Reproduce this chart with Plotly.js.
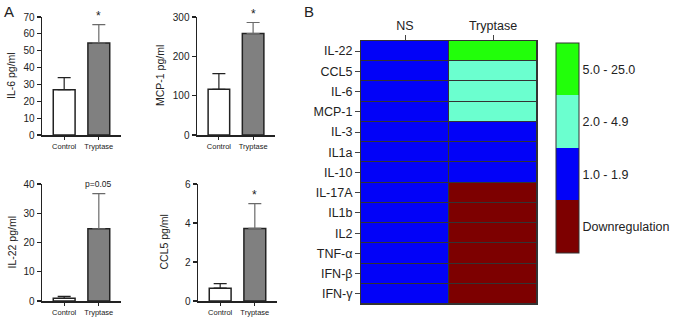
<!DOCTYPE html>
<html><head><meta charset="utf-8">
<script src="https://cdn.plot.ly/plotly-3.0.1.min.js"></script>
<style>html,body{margin:0;padding:0;background:#fff}#c{width:685px;height:317px}</style>
</head><body><div id="c"></div>
<script>
const groups = ["Control", "Tryptase"];
const il6Mean = [26.9, 54.6];
const il6Err = [7.1, 10.9];
const mcp1Mean = [116, 258];
const mcp1Err = [40, 28];
const il22Mean = [0.9, 24.7];
const il22Err = [0.7, 12.0];
const ccl5Mean = [0.66, 3.72];
const ccl5Err = [0.23, 1.27];
const il6Ticks = [0, 10, 20, 30, 40, 50, 60, 70];
const mcp1Ticks = [0, 100, 200, 300];
const il22Ticks = [0, 10, 20, 30, 40];
const ccl5Ticks = [0, 2, 4, 6];

const cytokines = ["IL-22","CCL5","IL-6","MCP-1","IL-3","IL1a","IL-10","IL-17A","IL1b","IL2","TNF-α","IFN-β","IFN-γ"];
const conditions = ["NS", "Tryptase"];
const nsLevel = [1,1,1,1,1,1,1,1,1,1,1,1,1];
const tryptaseLevel = [3,2,2,2,1,1,1,0,0,0,0,0,0];
const levelLabels = ["Downregulation", "1.0 - 1.9", "2.0 - 4.9", "5.0 - 25.0"];
const levelValues = [0, 1, 2, 3];

const FONT = "Liberation Sans, Arial, sans-serif";
const W = 685, H = 317;
const px = v => v / W;
const py = v => 1 - v / H;

const panels = [
  {mean: il6Mean, err: il6Err, ticks: il6Ticks, title: "IL-6 pg/ml", mark: "*", x: [42,121], y: [17,135], tx: 11},
  {mean: mcp1Mean, err: mcp1Err, ticks: mcp1Ticks, title: "MCP-1 pg/ml", mark: "*", x: [197,275], y: [17,135], tx: 160},
  {mean: il22Mean, err: il22Err, ticks: il22Ticks, title: "IL-22 pg/ml", mark: "p=0.05", x: [42,121], y: [184,301], tx: 11},
  {mean: ccl5Mean, err: ccl5Err, ticks: ccl5Ticks, title: "CCL5 pg/ml", mark: "*", x: [198,277], y: [184,301], tx: 163}
];

const traces = [];
const layout = {
  width: W, height: H,
  margin: {l:0, r:0, t:0, b:0},
  paper_bgcolor: "#fff",
  plot_bgcolor: "rgba(0,0,0,0)",
  showlegend: false,
  font: {family: FONT, color: "#222"},
  annotations: [],
  shapes: []
};

panels.forEach((p, i) => {
  const n = i + 1;
  const xa = "x" + n, ya = "y" + n;
  const xk = "xaxis" + n, yk = "yaxis" + n;
  const colors = ["#ffffff", "#808080"];
  const errCol = ["#222222", "#6a6a6a"];
  groups.forEach((g, j) => {
    traces.push({
      type: "bar", x: [g], y: [p.mean[j]], xaxis: xa, yaxis: ya,
      width: 0.63,
      marker: {color: colors[j], line: {color: "#222", width: 1.5}},
      error_y: {type: "data", array: [p.err[j]], arrayminus: [0], symmetric: false,
                color: errCol[j], thickness: 1.2, width: 6.5}
    });
  });
  const ymax = p.ticks[p.ticks.length - 1];
  layout[xk] = {
    domain: [px(p.x[0]), px(p.x[1])], anchor: ya,
    type: "category", categoryarray: groups, range: [-0.64, 1.64],
    showline: true, linecolor: "#222", linewidth: 1.5,
    ticks: "outside", ticklen: 3, tickcolor: "#222", tickwidth: 1,
    tickfont: {size: 7.5, family: FONT, color: "#222"},
    showgrid: false, zeroline: false, fixedrange: true
  };
  layout[yk] = {
    domain: [py(p.y[1]), py(p.y[0])], anchor: xa,
    range: [0, ymax], tickvals: p.ticks,
    showline: true, linecolor: "#222", linewidth: 1.5,
    ticks: "outside", ticklen: 4, tickcolor: "#222", tickwidth: 1.2,
    tickfont: {size: 10, family: FONT, color: "#222"},
    showgrid: false, zeroline: false, fixedrange: true
  };
  layout.annotations.push({
    xref: "paper", yref: "paper", x: px(p.tx), y: (py(p.y[0]) + py(p.y[1])) / 2,
    text: p.title, textangle: -90, showarrow: false,
    font: {size: 10.5, family: FONT, color: "#222"}, xanchor: "center", yanchor: "middle"
  });
  layout.annotations.push({
    xref: xa, yref: ya, x: groups[1], y: p.mean[1] + p.err[1],
    text: p.mark, showarrow: false, yanchor: "bottom",
    yshift: p.mark === "*" ? 0 : 3,
    font: {size: p.mark === "*" ? 12 : 8.5, family: FONT, color: "#222"}
  });
});

// Heatmap
const z = cytokines.map((c, i) => [nsLevel[i], tryptaseLevel[i]]);
traces.push({
  type: "heatmap", x: conditions, y: cytokines, z: z,
  xaxis: "x5", yaxis: "y5",
  zmin: -0.5, zmax: 3.5, xgap: 1, ygap: 1,
  colorscale: [[0,"#7d0000"],[0.25,"#7d0000"],[0.25,"#0202f8"],[0.5,"#0202f8"],
               [0.5,"#6bffcf"],[0.75,"#6bffcf"],[0.75,"#22ff0a"],[1,"#22ff0a"]],
  colorbar: {
    x: px(556), xanchor: "left", xpad: 0, ypad: 0,
    y: py(148), yanchor: "middle", lenmode: "pixels", len: 210,
    thicknessmode: "pixels", thickness: 23,
    outlinewidth: 1, outlinecolor: "#333",
    tickvals: levelValues, ticktext: levelLabels, ticks: "",
    tickfont: {size: 12.5, family: FONT, color: "#222"}
  }
});
layout.xaxis5 = {
  domain: [px(361), px(537)], anchor: "y5", side: "top",
  type: "category", categoryarray: conditions,
  ticks: "outside", ticklen: 5, tickcolor: "#444",
  tickfont: {size: 12.5, family: FONT, color: "#222"},
  showline: true, linecolor: "#333", linewidth: 1, mirror: true,
  showgrid: false, zeroline: false, fixedrange: true
};
layout.yaxis5 = {
  domain: [py(304), py(41)], anchor: "x5",
  type: "category", categoryarray: cytokines, autorange: "reversed",
  ticks: "outside", ticklen: 5, tickcolor: "#444",
  tickfont: {size: 12.5, family: FONT, color: "#222"},
  showline: true, linecolor: "#333", linewidth: 1, mirror: true,
  showgrid: false, zeroline: false, fixedrange: true
};
layout.shapes.push({type: "rect", xref: "paper", yref: "paper", layer: "below",
  x0: px(361), x1: px(537), y0: py(304), y1: py(41), fillcolor: "#333", line: {width: 0}});

layout.annotations.push({xref: "paper", yref: "paper", x: px(2), y: py(1), xanchor: "left", yanchor: "top",
  text: "A", showarrow: false, font: {size: 15, family: FONT, color: "#222"}});
layout.annotations.push({xref: "paper", yref: "paper", x: px(302), y: py(1), xanchor: "left", yanchor: "top",
  text: "B", showarrow: false, font: {size: 15, family: FONT, color: "#222"}});

Plotly.newPlot("c", traces, layout, {staticPlot: true, displayModeBar: false});
</script></body></html>
